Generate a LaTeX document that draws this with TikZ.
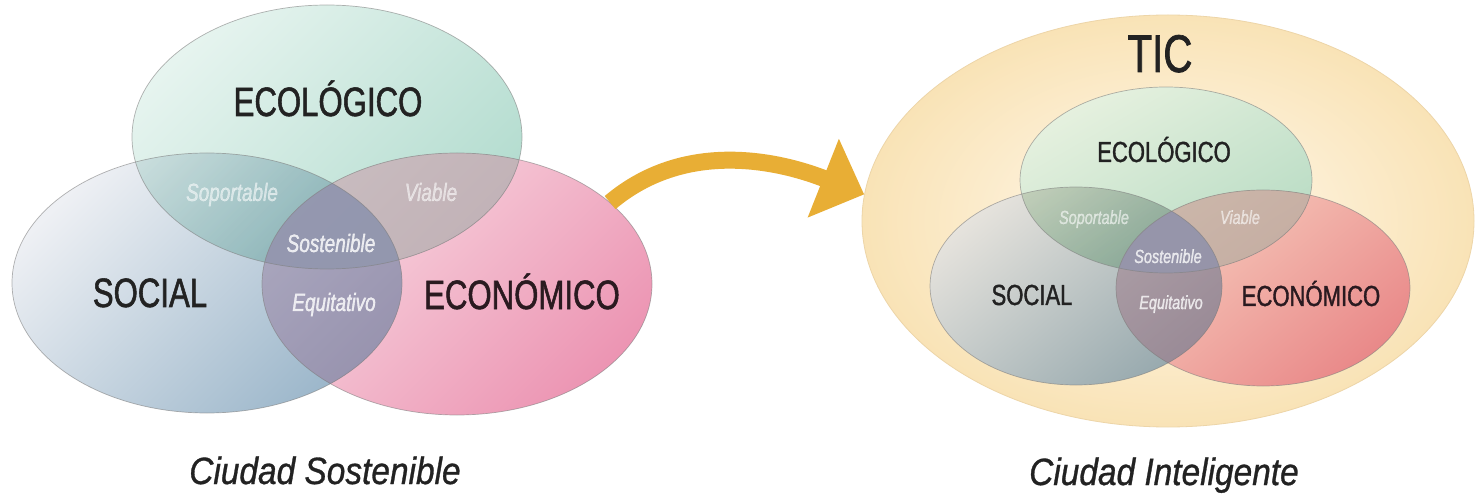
\documentclass[tikz,border=0pt]{standalone}
\usepackage{fontspec}
\setmainfont{Liberation Sans}[FakeStretch=0.76, FakeBold=1.3]
\newfontfamily\capfont{Liberation Sans}[FakeStretch=0.88, FakeBold=0.8]
\usetikzlibrary{shapes.geometric,arrows.meta}
\definecolor{ecoA}{HTML}{E6F4EF}
\definecolor{ecoB}{HTML}{B3DCCF}
\definecolor{socA}{HTML}{EEF0F4}
\definecolor{socB}{HTML}{9BB6CA}
\definecolor{econA}{HTML}{F8D9E2}
\definecolor{econB}{HTML}{EC95B3}
\definecolor{ticA}{HTML}{FFF9EF}
\definecolor{ticB}{HTML}{F9E3B6}
\definecolor{ticD}{HTML}{EDD5A8}
\definecolor{recoA}{HTML}{E6F1DF}
\definecolor{recoB}{HTML}{B7DBC3}
\definecolor{rsocA}{HTML}{E6E3DD}
\definecolor{rsocB}{HTML}{97A9AE}
\definecolor{reconA}{HTML}{F7CDBE}
\definecolor{reconB}{HTML}{E98989}
\definecolor{arr}{HTML}{E8AE35}
\definecolor{txt}{HTML}{222222}
\definecolor{etxt}{HTML}{2A1A20}
\definecolor{viaL}{HTML}{CBB9BE}
\definecolor{lowL}{HTML}{9EA0BA}
\definecolor{cenL}{HTML}{8D93AC}
\definecolor{viaR}{HTML}{CFB7B0}
\definecolor{lowR}{HTML}{A39DB2}
\definecolor{cenR}{HTML}{8F91AA}
\begin{document}
\begin{tikzpicture}[x=1pt,y=-1pt,
  venn/.style={ellipse, inner sep=0pt},
  outline/.style={draw=black!50, line width=0.7pt, draw opacity=0.6},
  ecoLp/.style={insert path={(327,137) ellipse [x radius=195, y radius=132]}},
  socLp/.style={insert path={(207,283) ellipse [x radius=195, y radius=130]}},
  econLp/.style={insert path={(457,284) ellipse [x radius=195, y radius=131]}},
  ecoRp/.style={insert path={(1166,180) ellipse [x radius=146, y radius=93]}},
  socRp/.style={insert path={(1076,286) ellipse [x radius=146, y radius=99]}},
  econRp/.style={insert path={(1263,288) ellipse [x radius=147, y radius=98]}},
  biglab/.style={anchor=base, inner sep=0pt, text=txt, font=\fontsize{41}{41}\selectfont},
  midlab/.style={anchor=base, inner sep=0pt, text=txt, font=\fontsize{29}{29}\selectfont},
  wlab/.style={anchor=base, inner sep=0pt, text=white, text opacity=0.8, font=\fontsize{25}{25}\selectfont\itshape},
  swlab/.style={anchor=base, inner sep=0pt, text=white, text opacity=0.75, font=\fontsize{19}{19}\selectfont\itshape},
  faint/.style={text opacity=0.55},
  caplab/.style={anchor=base, inner sep=0pt, text=txt, font=\fontsize{38}{38}\selectfont\capfont\itshape}]
\fill[white] (0,0) rectangle (1478,494);
\useasboundingbox (0,0) rectangle (1478,494);

% ---- left Venn ----
\begin{scope}[blend group=multiply]
  \node[venn, minimum width=390pt, minimum height=264pt,
        top color=ecoA, bottom color=ecoB, shading angle=45] (ecoL) at (327,137) {};
  \node[venn, minimum width=390pt, minimum height=260pt,
        top color=socA, bottom color=socB, shading angle=45] (socL) at (207,283) {};
  \node[venn, minimum width=390pt, minimum height=262pt,
        top color=econA, bottom color=econB, shading angle=45] (econL) at (457,284) {};
\end{scope}
\begin{scope}\clip[ecoLp]; \fill[viaL, fill opacity=0.75][econLp];\end{scope}
\begin{scope}\clip[socLp]; \fill[lowL, fill opacity=0.6][econLp];\end{scope}
\begin{scope}\clip[ecoLp]; \clip[socLp]; \fill[cenL, fill opacity=0.75][econLp];\end{scope}
\path[outline][ecoLp]; \path[outline][socLp]; \path[outline][econLp];

\node[biglab] (tEcoL) at (328,116) {ECOLÓGICO};
\node[biglab] (tSocL) at (150,307) {SOCIAL};
\node[biglab, text=etxt] (tEconL) at (522,309) {ECONÓMICO};
\node[wlab, faint] (tSopL) at (232,201) {Soportable};
\node[wlab, faint] (tViaL) at (431,201) {Viable};
\node[wlab] (tSosL) at (331,252) {Sostenible};
\node[wlab] (tEquL) at (334,311) {Equitativo};
\node[caplab] (capL) at (325,484) {Ciudad Sostenible};

% ---- right Venn ----
\node[ellipse, inner sep=0pt, minimum width=612pt, minimum height=412pt,
      inner color=ticA, outer color=ticB, draw=ticD, line width=0.8pt] (tic) at (1168,221) {};
\begin{scope}[blend group=multiply]
  \node[venn, minimum width=292pt, minimum height=186pt,
        top color=recoA, bottom color=recoB, shading angle=30] (ecoR) at (1166,180) {};
  \node[venn, minimum width=292pt, minimum height=198pt,
        top color=rsocA, bottom color=rsocB, shading angle=40] (socR) at (1076,286) {};
  \node[venn, minimum width=294pt, minimum height=196pt,
        top color=reconA, bottom color=reconB, shading angle=40] (econR) at (1263,288) {};
\end{scope}
\begin{scope}\clip[ecoRp]; \fill[viaR, fill opacity=0.75][econRp];\end{scope}
\begin{scope}\clip[socRp]; \fill[lowR, fill opacity=0.6][econRp];\end{scope}
\begin{scope}\clip[ecoRp]; \clip[socRp]; \fill[cenR, fill opacity=0.75][econRp];\end{scope}
\path[outline][ecoRp]; \path[outline][socRp]; \path[outline][econRp];

\node[anchor=base, inner sep=0pt, text=txt, font=\fontsize{53}{53}\selectfont] (tTic) at (1160,72) {TIC};
\node[midlab] (tEcoR) at (1164,162) {ECOLÓGICO};
\node[midlab] (tSocR) at (1032,305) {SOCIAL};
\node[midlab, text=etxt] (tEconR) at (1311,306) {ECONÓMICO};
\node[swlab, faint] (tSopR) at (1094,224) {Soportable};
\node[swlab, faint] (tViaR) at (1240,224) {Viable};
\node[swlab] (tSosR) at (1168,263) {Sostenible};
\node[swlab] (tEquR) at (1171,309) {Equitativo};
\node[caplab] (capR) at (1164,485) {Ciudad Inteligente};

% ---- arrow ----
\draw[arr, line width=17pt, -{Triangle[length=44pt,width=82pt]}]
  (econL.28) .. controls (690,135) and (790,165) .. (tic.175);
\end{tikzpicture}
\end{document}
